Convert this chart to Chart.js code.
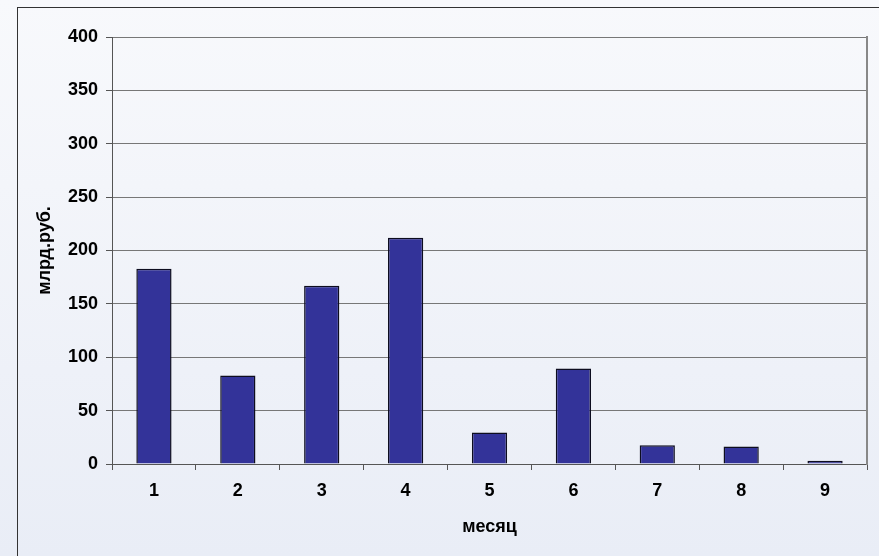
<!DOCTYPE html>
<html>
<head>
<meta charset="utf-8">
<script src="https://cdn.jsdelivr.net/npm/chart.js@4"></script>
<style>
  html, body { margin: 0; padding: 0; overflow: hidden; }
  body {
    width: 879px; height: 556px;
    background: linear-gradient(to bottom, #f8f9fc, #e9edf6);
    position: relative;
  }
  .frame {
    position: absolute; left: 17px; top: 7px; right: -10px; bottom: -10px;
    border-top: 1px solid #333; border-left: 1px solid #333;
  }
  canvas { position: absolute; left: 0; top: 0; }
</style>
</head>
<body>
<div class="frame"></div>
<canvas id="chart" width="879" height="556"></canvas>
<script>
const months = ['1', '2', '3', '4', '5', '6', '7', '8', '9'];
const values = [183, 83, 167, 212, 29.5, 89.5, 17.5, 16.5, 3];
const yTicks = [0, 50, 100, 150, 200, 250, 300, 350, 400];

const font = { family: "'Liberation Sans', Arial, sans-serif", weight: 'bold', size: 18, lineHeight: 1.2 };

const ctx = document.getElementById('chart').getContext('2d');
new Chart(ctx, {
  type: 'bar',
  data: {
    labels: months,
    datasets: [{
      data: values,
      backgroundColor: '#333399',
      borderColor: '#0d0d1f',
      borderWidth: 1.5,
      categoryPercentage: 1,
      barPercentage: 0.42
    }]
  },
  options: {
    responsive: false,
    animation: false,
    layout: { padding: { top: 37, right: 0, left: 0, bottom: 0 } },
    plugins: { legend: { display: false }, tooltip: { enabled: false } },
    scales: {
      x: {
        grid: { drawOnChartArea: false, offset: true, tickLength: 6, tickColor: '#555', color: '#555' },
        border: { color: '#555', width: 1 },
        ticks: { color: '#000', font: font, padding: 10, maxRotation: 0 },
        title: { display: true, text: 'месяц', color: '#000', font: font, padding: { top: 0, bottom: 18 } },
        afterFit: s => { s.height = 92; }
      },
      y: {
        min: 0, max: 400,
        afterBuildTicks: s => { s.ticks = yTicks.map(v => ({ value: v })); },
        grid: { color: '#777', lineWidth: 1, tickLength: 6, tickColor: '#555' },
        border: { color: '#555', width: 1 },
        ticks: { color: '#000', font: font, padding: 8 },
        title: { display: true, text: 'млрд.руб.', color: '#000', font: font, padding: { top: 34, bottom: 0 } },
        afterFit: s => { s.width = 112; }
      },
      y1: {
        position: 'right',
        display: true,
        grid: { drawOnChartArea: false, drawTicks: false },
        border: { color: '#888', width: 2 },
        ticks: { display: false },
        afterFit: s => { s.width = 12; }
      }
    }
  }
});
</script>
</body>
</html>
